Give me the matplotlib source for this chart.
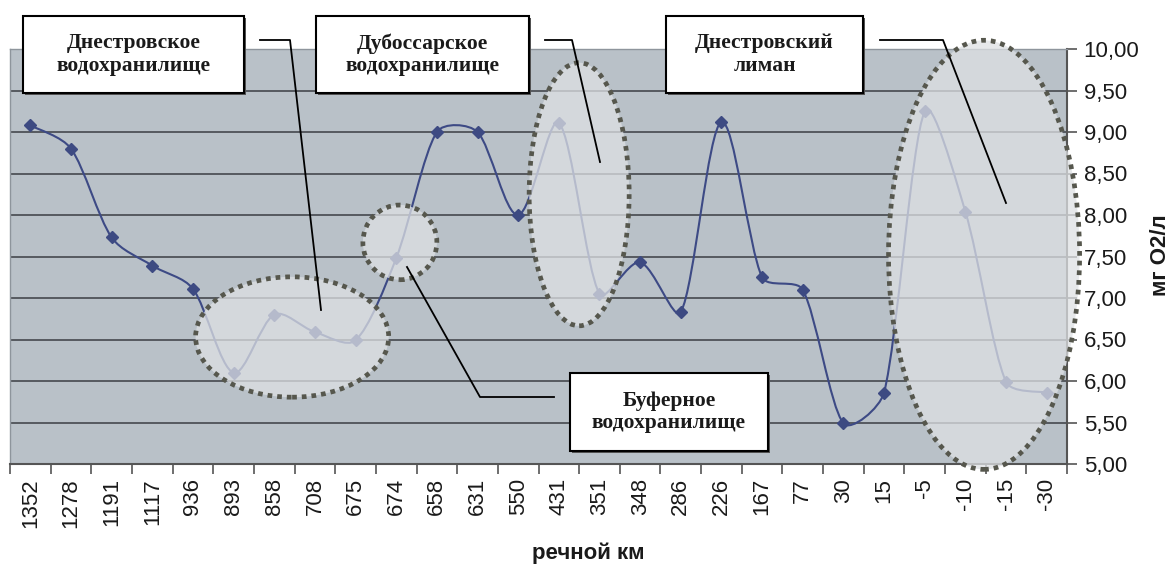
import numpy as np
import matplotlib
matplotlib.use('Agg')
import matplotlib.pyplot as plt
from matplotlib.path import Path
from matplotlib.patches import PathPatch, Ellipse, Rectangle
from matplotlib.lines import Line2D

plt.rcParams['font.family'] = ['Liberation Sans', 'DejaVu Sans']

km_labels = ['1352', '1278', '1191', '1117', '936', '893', '858', '708', '675',
             '674', '658', '631', '550', '431', '351', '348', '286', '226',
             '167', '77', '30', '15', '-5', '-10', '-15', '-30']
oxygen = [9.08, 8.80, 7.73, 7.39, 7.11, 6.10, 6.80, 6.59, 6.49,
          7.48, 9.00, 9.00, 8.00, 9.11, 7.05, 7.43, 6.83, 9.12,
          7.25, 7.10, 5.49, 5.86, 9.25, 8.04, 5.99, 5.86]
y_ticks = [5.0, 5.5, 6.0, 6.5, 7.0, 7.5, 8.0, 8.5, 9.0, 9.5, 10.0]

W, H = 1176, 569
def fx(x):
    return x / W
def fy(y):
    return 1 - y / H

fig = plt.figure(figsize=(W / 100, H / 100), dpi=100)
fig.patch.set_facecolor('white')
ax = fig.add_axes([fx(10), fy(464), fx(1067) - fx(10), fy(49) - fy(464)])
ax.set_facecolor('#B9C1C8')

n = len(km_labels)
x = np.arange(n)
y = np.array(oxygen)

# Excel-style smoothed line: cubic Bezier, tangents weighted by screen segment lengths
sx, sy = 40.6, 83.0
pts = np.column_stack([x, y])
def seglen(a, b):
    return np.hypot((b[0] - a[0]) * sx, (b[1] - a[1]) * sy)

verts = [tuple(pts[0])]
codes = [Path.MOVETO]
for i in range(n - 1):
    p0 = pts[max(i - 1, 0)]
    p1 = pts[i]
    p2 = pts[i + 1]
    p3 = pts[min(i + 2, n - 1)]
    d01, d12, d23 = seglen(p0, p1), seglen(p1, p2), seglen(p2, p3)
    k1 = 2 * d12 / (d01 + d12) if d01 > 0 else 1
    k2 = 2 * d12 / (d12 + d23) if d23 > 0 else 1
    c1 = p1 + (p2 - p0) / 6 * min(k1, 1)
    c2 = p2 - (p3 - p1) / 6 * min(k2, 1)
    verts += [tuple(c1), tuple(c2), tuple(p2)]
    codes += [Path.CURVE4] * 3
ax.add_patch(PathPatch(Path(verts, codes), fc='none', ec='#3D4A85', lw=1.5, zorder=3))
ax.plot(x, y, ls='none', marker='D', ms=6.5, color='#3D4A82', zorder=4)

ax.hlines(y_ticks[1:-1], -0.5, n - 0.5, colors='#4E5258', lw=1.3, zorder=1)

ax.set_xlim(-0.5, n - 0.5)
ax.set_ylim(5, 10)
ax.yaxis.tick_right()
ax.set_yticks(y_ticks)
ax.set_yticklabels([f'{v:.2f}'.replace('.', ',') for v in y_ticks], fontsize=16, color='#1a1a1a')
ax.tick_params(axis='y', length=7, width=1.2, color='#555555', pad=5)

ax.set_xticks(np.arange(n + 1) - 0.5)
ax.set_xticklabels([])
ax.tick_params(axis='x', which='major', length=7, width=1.2, color='#555555', direction='out')
ax.set_xticks(x, minor=True)
ax.set_xticklabels(km_labels, minor=True, rotation=90, fontsize=16, color='#1a1a1a')
ax.tick_params(axis='x', which='minor', length=0, pad=10)

for side in ['top', 'left']:
    ax.spines[side].set_color('#8E959C')
    ax.spines[side].set_linewidth(1)
for side in ['right', 'bottom']:
    ax.spines[side].set_color('#555555')
    ax.spines[side].set_linewidth(1.5)

# highlighted reservoir areas
ellipses = [(6.44, 6.53, 4.75, 1.45),
            (9.09, 7.67, 1.82, 0.90),
            (13.5, 8.25, 2.46, 3.17),
            (23.46, 7.52, 4.70, 5.17)]
for cx, cy, ew, eh in ellipses:
    ax.add_patch(Ellipse((cx, cy), ew, eh, fc='#DEE1E4', ec='none', alpha=0.75,
                         zorder=5, clip_on=False))
    ax.add_patch(Ellipse((cx, cy), ew, eh, fc='none', ec='#56574D', lw=3.4,
                         ls=(0, (1, 1.05)), zorder=6, clip_on=False))

# callout boxes
boxes = [(23, 16, 244, 93, 'Днестровское\nводохранилище',
          [(260, 40), (290, 40), (321, 310)]),
         (316, 16, 529, 93, 'Дубоссарское\nводохранилище',
          [(545, 40), (572, 40), (600, 162)]),
         (666, 16, 863, 93, 'Днестровский\nлиман',
          [(880, 40), (943, 40), (1006, 203)]),
         (570, 373, 768, 451, 'Буферное\nводохранилище',
          [(554, 397), (480, 397), (407, 267)])]
for x0, y0, x1, y1, label, leader in boxes:
    fig.add_artist(Rectangle((fx(x0) + 0.002, fy(y1) - 0.004), fx(x1) - fx(x0), fy(y0) - fy(y1),
                             transform=fig.transFigure, fc='#555555', ec='none', zorder=7))
    fig.add_artist(Rectangle((fx(x0), fy(y1)), fx(x1) - fx(x0), fy(y0) - fy(y1),
                             transform=fig.transFigure, fc='white', ec='black', lw=1.5, zorder=8))
    fig.text(fx((x0 + x1) / 2), fy((y0 + y1) / 2), label, ha='center', va='center',
             family=['Liberation Serif', 'DejaVu Serif'], fontweight='bold', fontsize=15.5,
             color='#1a1a1a', linespacing=1.15, zorder=9)
    fig.add_artist(Line2D([fx(p[0]) for p in leader], [fy(p[1]) for p in leader],
                          transform=fig.transFigure, color='black', lw=1.3, zorder=8))

fig.text(fx(588), fy(553), 'речной км', ha='center', va='center', fontsize=16,
         fontweight='bold', color='#1a1a1a')
fig.text(fx(1160), fy(255), 'мг O2/л', ha='center', va='center', rotation=90,
         fontsize=16, fontweight='bold', color='#1a1a1a')

fig.savefig('out.png', dpi=100)
